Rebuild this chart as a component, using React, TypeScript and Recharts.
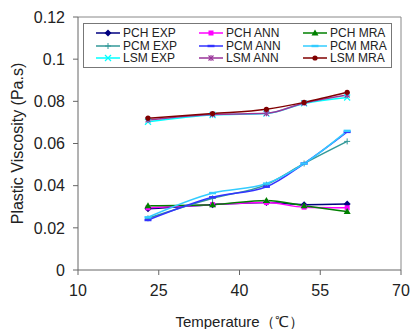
import {
  LineChart,
  Line,
  XAxis,
  YAxis,
  ReferenceLine,
  Label,
} from "recharts"

const temps = [23, 35, 45, 52, 60]
const pchExp = [0.029, 0.031, 0.032, 0.031, 0.0313]
const pchAnn = [0.0295, 0.031, 0.032, 0.0298, 0.0295]
const pchMra = [0.0305, 0.031, 0.033, 0.0305, 0.0277]
const pcmExp = [0.0245, 0.034, 0.0405, 0.0505, 0.061]
const pcmAnn = [0.0237, 0.0345, 0.0395, 0.0505, 0.0655]
const pcmMra = [0.025, 0.0365, 0.041, 0.0505, 0.066]
const lsmExp = [0.0703, 0.0735, 0.0742, 0.079, 0.0818]
const lsmAnn = [0.0712, 0.0738, 0.0743, 0.0792, 0.083]
const lsmMra = [0.072, 0.0742, 0.0762, 0.0795, 0.0843]

const xTicks = [10, 25, 40, 55, 70]
const yTicks = [0, 0.02, 0.04, 0.06, 0.08, 0.1, 0.12]

type Shape = "diamond" | "square" | "triangle" | "plus" | "dash" | "x" | "star" | "circle"

const series: { key: string; name: string; values: number[]; color: string; shape: Shape }[] = [
  { key: "pchExp", name: "PCH EXP", values: pchExp, color: "#000080", shape: "diamond" },
  { key: "pchAnn", name: "PCH ANN", values: pchAnn, color: "#ff00ff", shape: "square" },
  { key: "pchMra", name: "PCH MRA", values: pchMra, color: "#008000", shape: "triangle" },
  { key: "pcmExp", name: "PCM EXP", values: pcmExp, color: "#339999", shape: "plus" },
  { key: "pcmAnn", name: "PCM ANN", values: pcmAnn, color: "#3333ff", shape: "dash" },
  { key: "pcmMra", name: "PCM MRA", values: pcmMra, color: "#33ccff", shape: "dash" },
  { key: "lsmExp", name: "LSM EXP", values: lsmExp, color: "#00ffff", shape: "x" },
  { key: "lsmAnn", name: "LSM ANN", values: lsmAnn, color: "#993399", shape: "star" },
  { key: "lsmMra", name: "LSM MRA", values: lsmMra, color: "#800000", shape: "circle" },
]

const data = temps.map((t, i) => {
  const row: Record<string, number> = { t }
  series.forEach((s) => (row[s.key] = s.values[i]))
  return row
})

const font = "Liberation Sans, Arial, sans-serif"

function Marker({ cx, cy, color, shape }: { cx: number; cy: number; color: string; shape: Shape }) {
  switch (shape) {
    case "diamond":
      return <polygon points={`${cx},${cy - 3.5} ${cx + 3.5},${cy} ${cx},${cy + 3.5} ${cx - 3.5},${cy}`} fill={color} />
    case "square":
      return <rect x={cx - 2.5} y={cy - 2.5} width={5} height={5} fill={color} />
    case "triangle":
      return <polygon points={`${cx},${cy - 3.5} ${cx + 3.5},${cy + 2.5} ${cx - 3.5},${cy + 2.5}`} fill={color} />
    case "plus":
      return (
        <g stroke={color} strokeWidth={1}>
          <line x1={cx - 3} y1={cy} x2={cx + 3} y2={cy} />
          <line x1={cx} y1={cy - 3} x2={cx} y2={cy + 3} />
        </g>
      )
    case "dash":
      return <rect x={cx - 3.5} y={cy - 1.2} width={7} height={2.4} fill={color} />
    case "x":
      return (
        <g stroke={color} strokeWidth={1.2}>
          <line x1={cx - 3} y1={cy - 3} x2={cx + 3} y2={cy + 3} />
          <line x1={cx - 3} y1={cy + 3} x2={cx + 3} y2={cy - 3} />
        </g>
      )
    case "star":
      return (
        <g stroke={color} strokeWidth={1.1}>
          <line x1={cx - 2.5} y1={cy - 2.5} x2={cx + 2.5} y2={cy + 2.5} />
          <line x1={cx - 2.5} y1={cy + 2.5} x2={cx + 2.5} y2={cy - 2.5} />
          <line x1={cx} y1={cy - 3} x2={cx} y2={cy + 3} />
        </g>
      )
    default:
      return <circle cx={cx} cy={cy} r={2.6} fill={color} />
  }
}

function LegendBox() {
  return (
    <div
      style={{
        position: "absolute",
        left: 83,
        top: 23,
        width: 309,
        height: 45,
        border: "1px solid #777",
        background: "#fff",
        display: "grid",
        gridTemplateColumns: "103px 104px 100px",
        gridAutoRows: "12.5px",
        paddingTop: 3,
        boxSizing: "border-box",
        fontFamily: font,
        fontSize: 12,
        color: "#222",
      }}
    >
      {series.map((s) => (
        <div key={s.key} style={{ display: "flex", alignItems: "center", height: 12.5, whiteSpace: "nowrap" }}>
          <svg width={38} height={12} style={{ flex: "none" }}>
            <line x1={12} y1={6} x2={36} y2={6} stroke={s.color} strokeWidth={1.5} />
            <Marker cx={24} cy={6} color={s.color} shape={s.shape} />
          </svg>
          <span style={{ marginLeft: 1, lineHeight: "12px" }}>{s.name}</span>
        </div>
      ))}
    </div>
  )
}

const tickStyle = { fontSize: 16, fill: "#222", fontFamily: font }

export default function App() {
  return (
    <div style={{ position: "absolute", left: 0, top: 0, width: 411, height: 329, background: "#fff" }}>
      <LineChart width={411} height={329} data={data} margin={{ top: 17, right: 10, bottom: 0, left: 0 }}>
        <XAxis
          dataKey="t"
          type="number"
          domain={[10, 70]}
          ticks={xTicks}
          stroke="#666"
          tickSize={5}
          tickMargin={10}
          tick={tickStyle}
          height={59}
        >
          <Label value="Temperature（℃）" position="insideBottom" offset={2} style={{ fontSize: 15, fill: "#222", fontFamily: font }} />
        </XAxis>
        <YAxis
          type="number"
          domain={[0, 0.12]}
          ticks={yTicks}
          stroke="#666"
          tickSize={5}
          tickMargin={8}
          width={78}
          tick={tickStyle}
          tickFormatter={(v: number) => String(+v.toFixed(2))}
        >
          <Label
            value="Plastic Viscosity (Pa.s)"
            angle={-90}
            position="insideLeft"
            offset={17}
            style={{ textAnchor: "middle", fontSize: 16, fill: "#222", fontFamily: font }}
          />
        </YAxis>
        <ReferenceLine y={0.12} stroke="#888" strokeWidth={1} />
        <ReferenceLine x={70} stroke="#888" strokeWidth={1} />
        {series.map((s) => (
          <Line
            key={s.key}
            dataKey={s.key}
            name={s.name}
            type="monotone"
            stroke={s.color}
            strokeWidth={1.5}
            isAnimationActive={false}
            dot={(p: any) => <Marker key={`${s.key}-${p.index}`} cx={p.cx} cy={p.cy} color={s.color} shape={s.shape} />}
            activeDot={false}
          />
        ))}
      </LineChart>
      <LegendBox />
    </div>
  )
}
